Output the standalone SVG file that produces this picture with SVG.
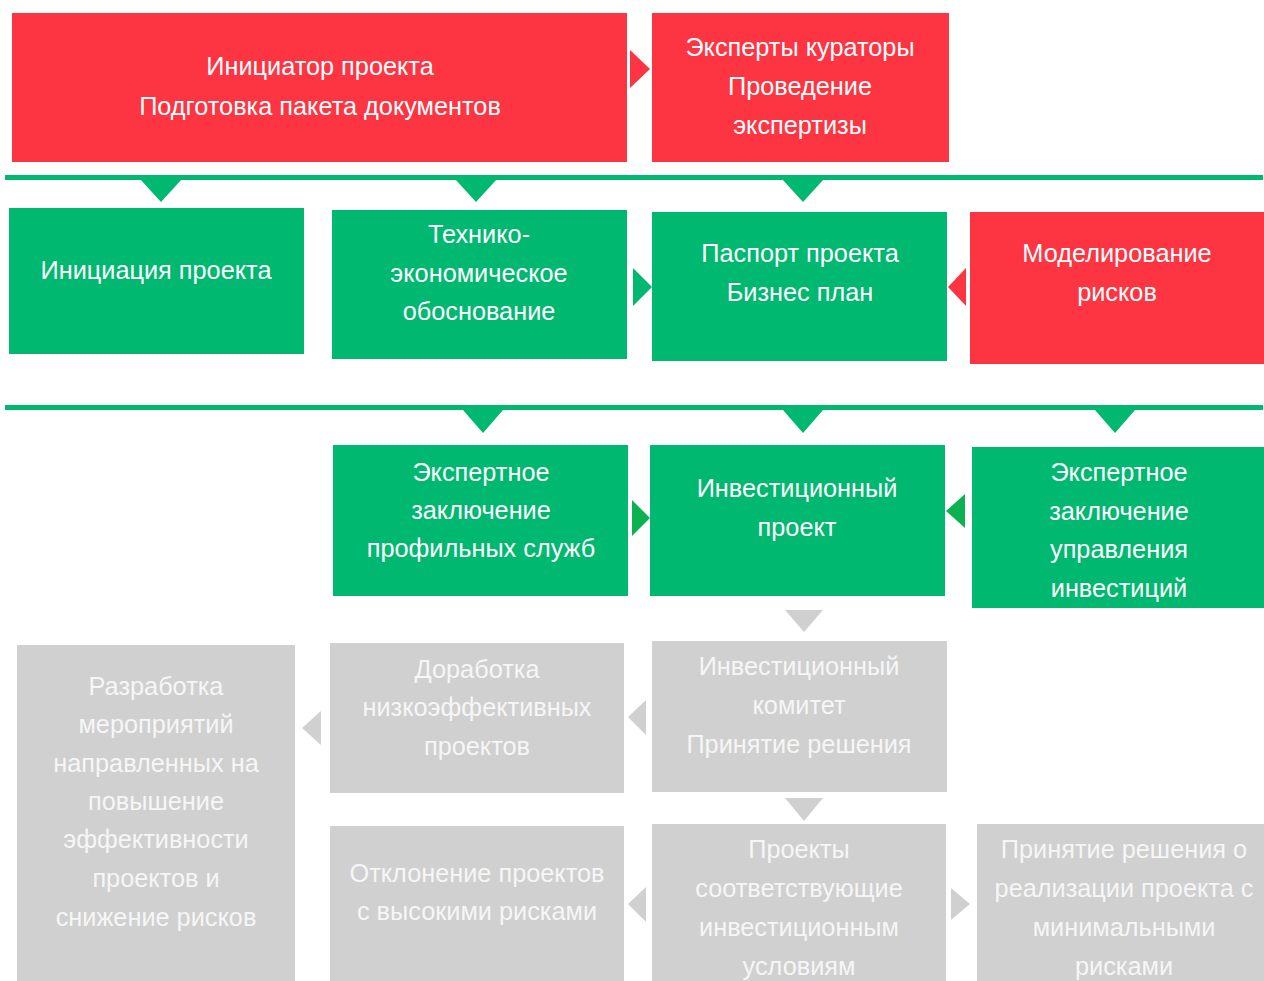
<svg xmlns="http://www.w3.org/2000/svg" width="1264" height="981" viewBox="0 0 1264 981">
<style>
.red{fill:#fd3441}
.green{fill:#00b870}
.grey{fill:#d0d0d0}
.dg{fill:#0cb152}
text{font-family:"Liberation Sans",Arial,sans-serif;font-size:25.3px;fill:#ffffff;text-anchor:middle}
.g text{fill:#f6f6f6}
</style>
<rect width="1264" height="981" fill="#ffffff"/>
<g id="connectors">
<rect x="5" y="175" width="1258" height="5" class="green"/>
<rect x="5" y="405" width="1258" height="5" class="green"/>
<polygon points="630,50 650,69 630,88" class="red"/>
<polygon points="140,179 182,179 161,202" class="green"/>
<polygon points="455,179 497,179 476,202" class="green"/>
<polygon points="782,179 824,179 803,202" class="green"/>
<polygon points="633,268 652,287 633,306" class="green"/>
<polygon points="966,268 948,287 966,306" class="red"/>
<polygon points="463,410 503,410 483,433" class="green"/>
<polygon points="783,410 823,410 803,433" class="green"/>
<polygon points="1095,410 1135,410 1115,433" class="green"/>
<polygon points="632,500 650,518 632,536" class="dg"/>
<polygon points="965,494 946,511 965,528" class="dg"/>
<polygon points="785,610 823,610 804,632" class="grey"/>
<polygon points="646,700 628,717 646,735" class="grey"/>
<polygon points="321,711 302,728 321,745" class="grey"/>
<polygon points="785,798 823,798 804,821" class="grey"/>
<polygon points="646,887 628,904 646,922" class="grey"/>
<polygon points="951,888 970,904 951,920" class="grey"/>
</g>
<g id="n1"><rect x="12" y="13" width="615" height="149" class="red"/><text x="320" y="75">Инициатор проекта</text><text x="320" y="115">Подготовка пакета документов</text></g>
<g id="n2"><rect x="652" y="13" width="297" height="149" class="red"/><text x="800" y="56">Эксперты кураторы</text><text x="800" y="95">Проведение</text><text x="800" y="134">экспертизы</text></g>
<g id="n3"><rect x="9" y="208" width="295" height="146" class="green"/><text x="156" y="279">Инициация проекта</text></g>
<g id="n4"><rect x="332" y="210" width="295" height="149" class="green"/><text x="479" y="243">Технико-</text><text x="479" y="282">экономическое</text><text x="479" y="320">обоснование</text></g>
<g id="n5"><rect x="652" y="212" width="295" height="149" class="green"/><text x="800" y="262">Паспорт проекта</text><text x="800" y="301">Бизнес план</text></g>
<g id="n6"><rect x="970" y="212" width="294" height="152" class="red"/><text x="1117" y="262">Моделирование</text><text x="1117" y="301">рисков</text></g>
<g id="n7"><rect x="333" y="445" width="295" height="151" class="green"/><text x="481" y="481">Экспертное</text><text x="481" y="519">заключение</text><text x="481" y="557">профильных служб</text></g>
<g id="n8"><rect x="650" y="445" width="295" height="151" class="green"/><text x="797" y="497">Инвестиционный</text><text x="797" y="536">проект</text></g>
<g id="n9"><rect x="972" y="447" width="292" height="161" class="green"/><text x="1119" y="481">Экспертное</text><text x="1119" y="520">заключение</text><text x="1119" y="558">управления</text><text x="1119" y="597">инвестиций</text></g>
<g id="n10" class="g"><rect x="652" y="641" width="295" height="151" class="grey"/><text x="799" y="675">Инвестиционный</text><text x="799" y="714">комитет</text><text x="799" y="753">Принятие решения</text></g>
<g id="n11" class="g"><rect x="330" y="643" width="294" height="150" class="grey"/><text x="477" y="678">Доработка</text><text x="477" y="716">низкоэффективных</text><text x="477" y="755">проектов</text></g>
<g id="n12" class="g"><rect x="17" y="645" width="278" height="336" class="grey"/><text x="156" y="695">Разработка</text><text x="156" y="733">мероприятий</text><text x="156" y="772">направленных на</text><text x="156" y="810">повышение</text><text x="156" y="848">эффективности</text><text x="156" y="887">проектов и</text><text x="156" y="926">снижение рисков</text></g>
<g id="n13" class="g"><rect x="652" y="824" width="294" height="157" class="grey"/><text x="799" y="858">Проекты</text><text x="799" y="897">соответствующие</text><text x="799" y="936">инвестиционным</text><text x="799" y="975">условиям</text></g>
<g id="n14" class="g"><rect x="330" y="826" width="294" height="155" class="grey"/><text x="477" y="882">Отклонение проектов</text><text x="477" y="920">с высокими рисками</text></g>
<g id="n15" class="g"><rect x="977" y="824" width="287" height="157" class="grey"/><text x="1124" y="858">Принятие решения о</text><text x="1124" y="897">реализации проекта с</text><text x="1124" y="936">минимальными</text><text x="1124" y="975">рисками</text></g>
</svg>
